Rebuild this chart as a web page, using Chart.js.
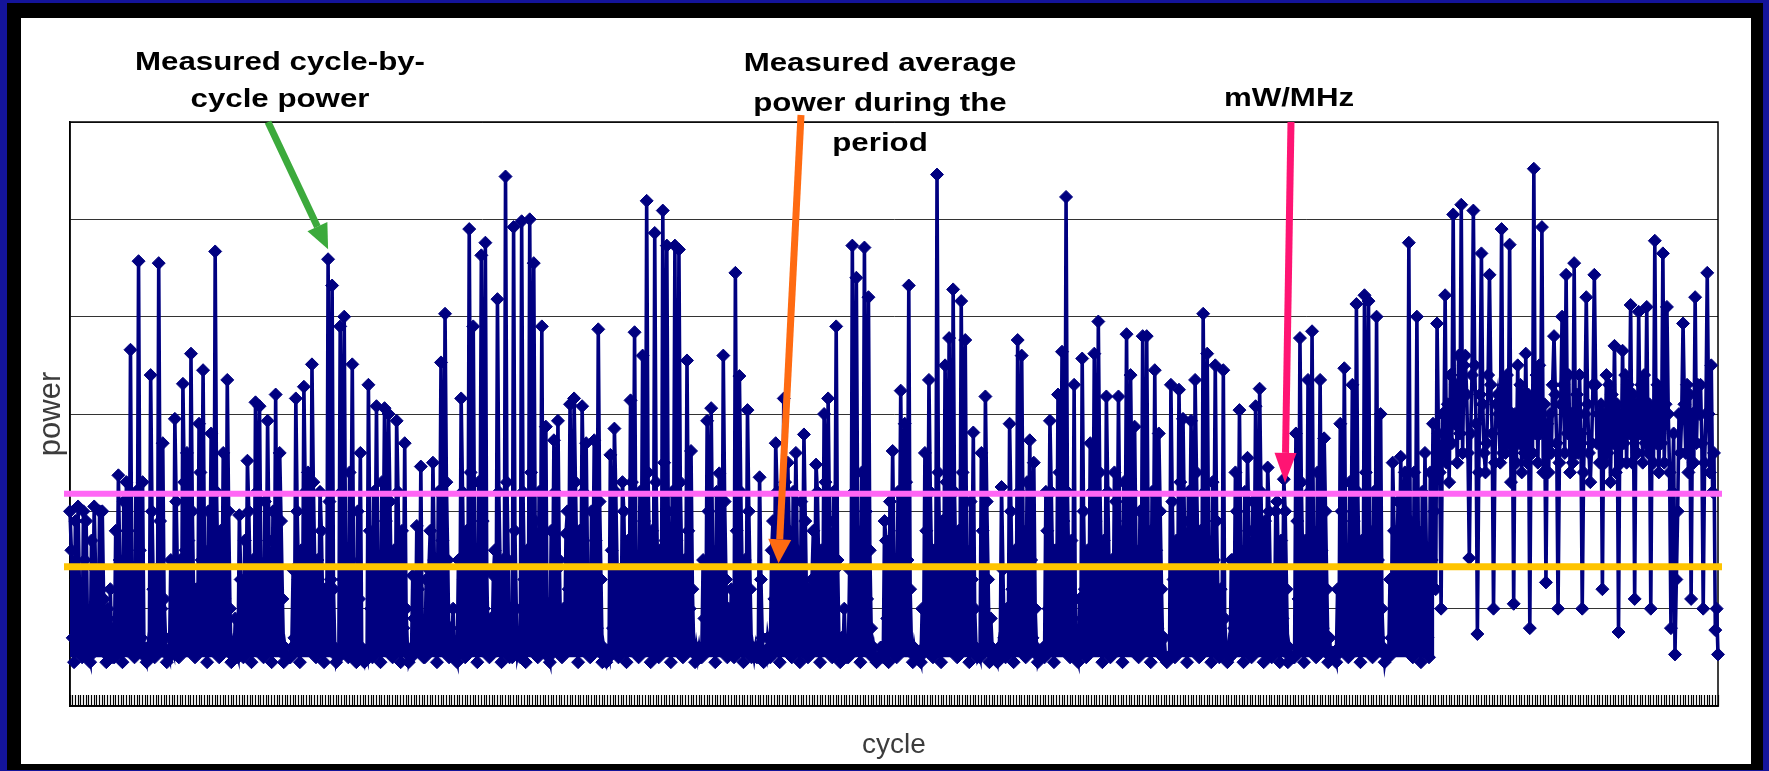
<!DOCTYPE html>
<html>
<head>
<meta charset="utf-8">
<title>Cycle-by-cycle power</title>
<script src="https://cdn.jsdelivr.net/npm/chart.js@4.4.1/dist/chart.umd.min.js"></script>
<style>
  html, body { margin:0; padding:0; width:1769px; height:771px; overflow:hidden; background:#14149a; }
  #frame { position:absolute; left:7px; top:3px; width:1756px; height:767px; background:#000; }
  #panel { position:absolute; left:21px; top:18px; width:1730px; height:746px; background:#fff; }
  #chart { position:absolute; left:0; top:0; }
  .note { position:absolute; font-family:'Liberation Sans', Arial, sans-serif; font-weight:bold; font-size:25px; line-height:25px; color:#000; white-space:nowrap; text-align:center; transform:translateX(-50%) scaleX(1.25); }
</style>
</head>
<body>
<div id="frame"></div>
<div id="panel"></div>
<canvas id="chart" width="1769" height="771"></canvas>
<div class="note" style="left:280px;top:49px">Measured cycle-by-</div>
<div class="note" style="left:280px;top:86px">cycle power</div>
<div class="note" style="left:880px;top:50px">Measured average</div>
<div class="note" style="left:880px;top:90px">power during the</div>
<div class="note" style="left:880px;top:130px">period</div>
<div class="note" style="left:1289px;top:85px">mW/MHz</div>
<script>
// ---- data, in segments along the cycle axis ----
// main readings (one per ~4 px of the plot)
const seg1 = [2.0,0.45,2.05,0.5,1.9,0.45,2.05,0.6,2.0,0.45,
  1.2,0.5,2.37,0.45,2.3,3.66,0.5,4.57,2.3,0.45,
  3.4,0.5,4.55,2.7,0.45,1.5,2.95,0.5,3.31,2.6,
  3.62,0.5,2.9,3.45,0.45,2.8,4.67,0.5,2.6,3.35,
  0.45,0.9,1.96,0.5,2.52,0.45,3.12,3.08,0.5,2.93,
  0.45,3.2,2.6,0.45,0.5,0.6,3.16,0.45,3.28,2.4,
  3.51,0.5,2.2,0.45,4.59];
const seg2 = [4.32,0.45,3.9,4.0,0.5,3.51,0.45,2.6,0.45,3.3,
  0.5,3.08,0.45,3.06,3.0,0.5,2.93,0.45,2.7,0.45,
  1.34,1.85,2.46,0.5,1.4,2.5,0.45,3.53,4.03,0.5,
  1.0,0.45,3.16,0.5,4.9,3.9,0.45,4.63,4.76,0.5,
  1.34,4.18,0.45,5.44,0.5,4.92,0.53,4.98,0.45,5.0,
  4.55,0.5,3.9,2.87,0.45,2.73,2.93,0.5,1.77,3.1,
  3.16,0.45,3.08,2.7,0.5,2.73,3.87,0.45];
const seg3 = [0.45,2.58,2.85,0.5,2.3,0.45,3.14,3.84,0.5,3.6,
  5.19,0.45,4.86,0.5,5.09,4.73,0.45,4.73,4.69,0.5,
  3.55,2.62,0.45,0.6,1.5,2.93,3.06,0.45,2.39,3.6,
  0.5,1.2,4.45,3.39,0.45,3.04,0.5,0.6,2.35,0.45,
  0.7,1.6,2.7,0.45,3.16,2.5,0.5,2.6,0.45,2.79,
  0.5,1.3,2.48,0.45,3.0,3.16,0.5,3.9,0.45,1.0,
  0.5,4.73,4.4,0.45,4.71,4.2,0.5];
const seg4 = [0.45,0.6,1.9,0.45,2.62,0.5,3.24,2.9,4.32,0.45,
  0.55,0.45,2.6,3.35,0.5,5.46,0.45,3.5,3.78,4.28,
  0.5,4.16,3.76,0.45,2.81,0.5,2.6,3.18,0.45,0.55,
  0.45,2.25,0.5,2.9,0.45,3.76,3.6,0.5,2.73,2.5,
  0.45,0.55,2.2,2.93,0.45,3.2,3.64,5.23,0.5,3.3,
  0.45,3.57,0.5,2.7,3.62,3.95,0.45,3.18,0.5,2.4,
  3.18,0.45,3.82,3.4,2.87,0.5,3.8];
const seg5 = [3.8,0.45,3.45,2.8,0.5,0.45,3.3,0.5,3.25,2.95,
  0.45,2.93,3.35,0.5,4.03,3.62,0.45,3.5,0.5,3.45,
  0.45,1.5,2.4,3.04,0.45,2.55,0.5,3.08,3.26,0.45,
  2.45,0.5,2.0,0.45,2.33,0.45,0.5,2.8,3.78,0.45,
  3.35,3.85,0.5,3.35,2.75,0.45,0.55,0.45,2.9,3.47,
  0.5,3.3,4.13,0.45,4.22,4.16,0.5,4.0,3.0,0.45,
  0.5,2.5,1.4,2.56,2.4,4.76,0.5];
const seg6 = [4.0,0.45,2.6,0.5,2.9,3.93,
  1.0,4.22,2.3,
  5.05,2.5,5.15,3.6,1.52,5.09,0.74,
  4.65,2.4,4.43,1.0,3.2,
  4.9,2.6,4.74,1.05,3.5,2.4,
  3.62,0.8,5.52,2.5,4.92,1.27,
  3.0,3.8,1.0,4.0,4.43,2.4,
  4.55,2.6,1.0,4.2,2.3,4.43,3.0,
  1.2,3.4,2.3,3.7,0.76,3.65,2.5,
  4.12,1.1,4.05,2.5,4.1,1.0,4.78,
  2.4,4.65,4.1,0.8,0.53,3.0,3.93,
  3.3,1.1,4.2,3.0,1.0,4.45,3.5,0.78,0.53];
// second reading after each main one
const mid1 = [1.6,1.9,1.2,2.0,0.8,1.7,1.4,2.0,1.1,1.0,
  0.6,1.8,1.5,2.1,1.8,1.2,2.2,1.6,0.6,0.6,
  2.0,1.4,1.9,1.1,0.55,0.6,2.1,1.5,2.3,1.7,
  2.0,1.2,2.4,1.6,2.0,1.3,2.2,1.8,1.1,2.0,
  0.6,0.55,1.3,1.7,2.0,1.5,2.2,1.4,2.1,1.7,
  2.0,1.2,1.9,0.6,0.5,1.4,2.0,1.6,2.2,1.1,
  2.3,1.5,1.8,1.2,2.1];
const mid2 = [1.2,0.5,2.2,1.5,2.4,1.3,2.0,0.6,0.55,1.8,
  2.2,1.5,2.3,1.9,2.1,1.6,2.2,1.8,1.0,0.5,
  0.9,1.2,0.7,1.3,1.8,1.5,2.2,1.7,2.3,0.8,
  0.5,1.5,2.2,1.8,2.4,1.6,2.3,1.9,1.4,0.9,
  1.6,2.2,1.5,2.3,0.6,1.8,0.6,2.2,1.6,2.4,
  1.9,2.2,1.1,0.6,1.8,2.2,1.5,1.0,2.0,1.6,
  2.3,1.8,2.2,1.4,2.0,1.7,2.1,0.6];
const mid3 = [0.55,1.6,2.2,1.4,2.0,1.7,2.3,1.5,2.2,1.9,
  2.4,1.8,2.3,1.6,2.5,2.0,2.2,1.7,2.3,1.5,
  1.8,1.2,0.6,0.5,0.9,2.0,1.6,2.2,1.4,2.1,
  1.0,0.7,1.8,2.2,1.5,2.0,0.6,0.5,1.3,0.55,
  0.6,1.9,2.2,1.7,2.3,1.8,2.2,1.6,2.1,1.9,
  1.2,1.8,2.2,1.6,2.3,1.9,2.2,1.5,0.7,0.55,
  1.4,2.2,1.8,2.4,2.0,1.6,0.6];
const mid4 = [0.5,0.6,1.7,2.1,1.5,2.2,1.8,2.3,1.2,0.6,
  0.5,1.0,1.8,2.2,1.6,2.4,1.9,2.3,1.7,2.2,
  1.8,2.4,1.6,2.1,1.0,0.55,1.8,2.1,0.9,0.5,
  0.6,1.4,1.0,2.0,1.6,2.2,1.8,2.3,1.5,1.0,
  0.5,0.6,1.8,2.2,1.6,2.4,1.9,2.2,1.7,0.6,
  1.1,2.0,1.6,2.2,1.9,2.4,1.7,2.2,1.5,2.1,
  1.8,2.3,1.9,2.2,1.6,2.0,1.4];
const mid5 = [1.8,2.2,1.6,2.0,0.7,0.5,2.1,1.7,2.3,1.9,
  2.2,1.6,2.4,1.8,2.2,1.7,2.3,1.9,1.2,0.9,
  0.6,1.5,2.0,1.6,2.2,1.8,2.1,1.5,2.2,1.9,
  2.0,1.4,2.1,1.7,2.0,0.6,0.5,1.9,2.3,1.7,
  2.2,1.8,2.4,1.6,2.0,0.7,0.5,1.2,2.0,1.6,
  2.3,1.9,2.2,1.7,2.4,1.8,2.2,1.5,1.0,0.55,
  1.3,1.8,2.1,1.6,2.2,1.9,2.4];
const mid6 = [1.8,2.2,1.6,2.4,2.0,2.8,
  3.0,2.5,3.4,
  2.9,3.6,2.6,3.2,2.8,3.5,2.4,
  3.1,2.7,3.3,2.5,3.0,
  2.6,3.4,2.3,3.0,2.7,3.2,
  2.5,3.1,2.8,3.5,2.4,2.9,
  2.6,3.2,2.5,3.3,2.8,3.0,
  2.6,3.4,2.4,3.1,2.7,3.3,2.5,
  3.0,2.6,3.2,2.4,3.0,2.7,3.3,
  2.5,3.1,2.8,3.4,2.6,3.0,2.7,
  3.2,2.5,3.0,2.2,1.3,2.6,3.1,
  2.4,3.0,2.7,3.3,2.5,3.0,2.2,1.0];
// third reading after each main one
const ext1 = [0.7,1.3,0.6,1.5,0.5,1.0,0.6,1.2,0.7,0.5,
  0.5,0.9,0.6,1.4,0.8,0.6,1.1,0.7,0.5,0.5,
  1.2,0.6,1.0,0.7,0.5,0.55,1.3,0.7,1.6,0.8,
  1.1,0.6,1.5,0.9,1.2,0.6,1.4,0.8,0.6,1.0,
  0.5,0.5,0.7,0.9,1.3,0.6,1.5,0.7,1.2,0.8,
  1.0,0.6,1.1,0.5,0.5,0.7,1.3,0.8,1.4,0.6,
  1.5,0.7,1.0,0.6,1.3];
const ext2 = [0.6,0.5,1.3,0.7,1.5,0.6,1.1,0.5,0.5,1.0,
  1.4,0.7,1.5,0.9,1.2,0.6,1.3,0.8,0.6,0.5,
  0.6,0.7,0.5,0.8,1.0,0.6,1.4,0.8,1.5,0.6,
  0.5,0.7,1.3,0.9,1.6,0.7,1.4,1.0,0.6,0.6,
  0.8,1.4,0.7,1.5,0.5,1.0,0.5,1.3,0.7,1.5,
  1.0,1.3,0.6,0.5,1.0,1.4,0.7,0.6,1.2,0.8,
  1.5,0.9,1.3,0.7,1.2,0.8,1.3,0.5];
const ext3 = [0.5,0.8,1.4,0.7,1.2,0.8,1.5,0.7,1.3,1.0,
  1.6,0.9,1.5,0.8,1.7,1.1,1.4,0.8,1.5,0.7,
  1.0,0.6,0.5,0.5,0.6,1.2,0.7,1.4,0.6,1.3,
  0.6,0.5,1.0,1.4,0.7,1.2,0.5,0.5,0.7,0.5,
  0.5,1.1,1.4,0.8,1.5,0.9,1.4,0.7,1.3,1.0,
  0.6,1.0,1.4,0.8,1.5,1.0,1.4,0.7,0.5,0.5,
  0.7,1.4,0.9,1.6,1.1,0.8,0.5];
const ext4 = [0.5,0.5,0.9,1.3,0.7,1.4,1.0,1.5,0.6,0.5,
  0.5,0.6,1.0,1.4,0.8,1.6,1.1,1.5,0.8,1.4,
  1.0,1.6,0.8,1.3,0.6,0.5,1.0,1.3,0.6,0.5,
  0.5,0.7,0.6,1.2,0.8,1.4,1.0,1.5,0.7,0.6,
  0.5,0.5,1.0,1.4,0.8,1.6,1.1,1.4,0.9,0.5,
  0.6,1.2,0.8,1.4,1.1,1.6,0.9,1.4,0.7,1.3,
  1.0,1.5,1.1,1.4,0.8,1.2,0.7];
const ext5 = [1.0,1.4,0.8,1.2,0.5,0.5,1.3,0.9,1.5,1.1,
  1.4,0.8,1.6,1.0,1.4,0.9,1.5,1.1,0.6,0.6,
  0.5,0.8,1.2,0.8,1.4,1.0,1.3,0.7,1.4,1.1,
  1.2,0.7,1.3,0.9,1.2,0.5,0.5,1.1,1.5,0.9,
  1.4,1.0,1.6,0.8,1.2,0.5,0.5,0.6,1.2,0.8,
  1.5,1.1,1.4,0.9,1.6,1.0,1.4,0.7,0.6,0.5,
  0.7,1.0,1.3,0.8,1.4,1.1,1.6];
const ext6 = [0.9,1.3,0.7,1.5,1.2,2.4,
  2.6,3.1,2.7,
  3.3,2.8,3.5,2.6,3.4,2.9,3.2,
  2.6,3.4,2.8,3.1,2.5,
  3.3,2.7,3.0,2.5,3.3,2.6,
  3.2,2.6,3.4,2.8,3.1,2.4,
  3.3,2.7,3.1,2.6,3.4,2.5,
  3.2,2.8,3.0,2.6,3.3,2.7,3.1,
  2.5,3.3,2.7,3.1,2.5,3.4,2.8,
  3.2,2.6,3.3,2.7,3.1,2.5,3.3,
  2.7,3.1,2.4,2.8,2.0,3.0,2.6,
  3.2,2.5,3.3,2.7,3.0,2.4,2.6];

const mainSegs = [seg1, seg2, seg3, seg4, seg5, seg6];
const midSegs = [mid1, mid2, mid3, mid4, mid5, mid6];
const extSegs = [ext1, ext2, ext3, ext4, ext5, ext6];
const power = [];
mainSegs.forEach((s, k) => s.forEach((v, i) => {
  power.push(v);
  if (i < midSegs[k].length) power.push(midSegs[k][i]);
  if (i < extSegs[k].length) power.push(extSegs[k][i]);
}));
const cycles = power.map((_, i) => String(i + 1));

const avgPower = 1.43;     // measured average power during the period
const mwPerMHz = 2.18;     // mW/MHz level
const floorPower = 0.5;    // idle floor of the cycle trace
const lastIdleCycle = 1015; // after this cycle the trace never returns to idle
const yTicks = [0, 1, 2, 3, 4, 5, 6];

// annotation arrow targets (cycle index on the axis)
const greenTarget = 192;
const orangeTargetIndex = 527.1;
const pinkTargetIndex = 903.9;

function arrow(ctx, x1, y1, x2, y2, color, w, headLen, headW) {
  const ang = Math.atan2(y2 - y1, x2 - x1);
  const bx = x2 - headLen * Math.cos(ang), by = y2 - headLen * Math.sin(ang);
  ctx.save();
  ctx.strokeStyle = color; ctx.fillStyle = color; ctx.lineWidth = w; ctx.lineCap = 'butt';
  ctx.beginPath(); ctx.moveTo(x1, y1); ctx.lineTo(bx, by); ctx.stroke();
  ctx.beginPath(); ctx.moveTo(x2, y2);
  ctx.lineTo(bx + headW / 2 * Math.sin(ang), by - headW / 2 * Math.cos(ang));
  ctx.lineTo(bx - headW / 2 * Math.sin(ang), by + headW / 2 * Math.cos(ang));
  ctx.closePath(); ctx.fill();
  ctx.restore();
}

const extras = {
  id: 'extras',
  beforeDatasetsDraw(chart) {
    const { ctx, chartArea: a } = chart;
    ctx.save();
    ctx.strokeStyle = '#000'; ctx.lineWidth = 1.5;
    ctx.strokeRect(a.left, a.top, a.right - a.left, a.bottom - a.top);
    ctx.restore();
  },
  afterDatasetsDraw(chart) {
    const { ctx, chartArea: a, scales: { x, y } } = chart;
    ctx.save();
    ctx.lineCap = 'butt';
    ctx.strokeStyle = '#ff66f5'; ctx.lineWidth = 6;
    ctx.beginPath(); ctx.moveTo(a.left - 6, y.getPixelForValue(mwPerMHz)); ctx.lineTo(a.right + 4, y.getPixelForValue(mwPerMHz)); ctx.stroke();
    ctx.strokeStyle = '#ffc400'; ctx.lineWidth = 7;
    ctx.beginPath(); ctx.moveTo(a.left - 6, y.getPixelForValue(avgPower)); ctx.lineTo(a.right + 4, y.getPixelForValue(avgPower)); ctx.stroke();
    ctx.restore();

    const pt = chart.getDatasetMeta(0).data[greenTarget];
    arrow(ctx, 268, a.top, pt.x, pt.y - 10, '#3caa3c', 7, 25, 22);
    arrow(ctx, 801, 115, x.getPixelForValue(orangeTargetIndex), y.getPixelForValue(avgPower) - 3.5, '#ff6b12', 7, 24, 23);
    arrow(ctx, 1291, a.top, x.getPixelForValue(pinkTargetIndex), y.getPixelForValue(mwPerMHz) - 11, '#ff1473', 7, 30, 22);
  }
};

new Chart(document.getElementById('chart'), {
  type: 'line',
  data: {
    labels: cycles,
    datasets: [{
      label: 'power',
      data: power,
      borderColor: '#000080',
      backgroundColor: '#000080',
      borderWidth: 3.6,
      pointStyle: 'rectRot',
      pointRadius: 6.5,
      pointBorderWidth: 1,
      pointBackgroundColor: '#000080',
      pointBorderColor: '#000080',
      tension: 0,
      fill: { value: floorPower },
      segment: {
        backgroundColor: c => (c.p0DataIndex >= lastIdleCycle ? 'rgba(0,0,128,0)' : '#000080')
      }
    }]
  },
  options: {
    responsive: false,
    animation: false,
    events: [],
    layout: { padding: { left: 0, right: 51, top: 122, bottom: 0 } },
    plugins: { legend: { display: false }, tooltip: { enabled: false } },
    scales: {
      x: {
        type: 'category',
        offset: false,
        afterBuildTicks(s) { s.ticks = s.ticks.filter((t, i) => i % 2 === 0); },
        ticks: { display: false, autoSkip: false },
        grid: { display: true, drawOnChartArea: false, drawTicks: true, tickLength: -11, tickColor: '#000', tickWidth: 1.2 },
        border: { display: true, color: '#000', width: 1.5 },
        title: { display: true, text: 'cycle', color: '#3c3c3c', font: { family: "'Liberation Sans', Arial, sans-serif", size: 28, weight: 'normal' }, padding: { top: 0, bottom: 9 } },
        afterFit(s) { s.height = 65; }
      },
      y: {
        min: yTicks[0],
        max: yTicks[yTicks.length - 1],
        afterBuildTicks(s) { s.ticks = yTicks.map(v => ({ value: v })); },
        ticks: { display: false },
        grid: { display: true, color: '#333', lineWidth: 1, drawTicks: false },
        border: { display: true, color: '#000', width: 1.5 },
        title: { display: true, text: 'power', color: '#3c3c3c', font: { family: "'Liberation Sans', Arial, sans-serif", size: 31, weight: 'normal' }, padding: { top: 33, bottom: 0 } },
        afterFit(s) { s.width = 70; }
      }
    }
  },
  plugins: [extras]
});
</script>
</body>
</html>
